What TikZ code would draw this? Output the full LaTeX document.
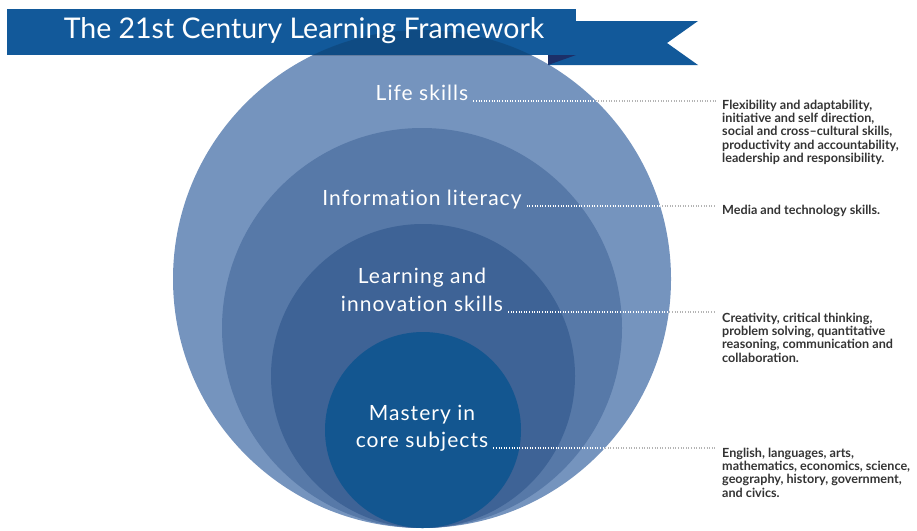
\documentclass[tikz,border=0pt]{standalone}
\usepackage{fontspec}
\setmainfont{Lato}
\usetikzlibrary{positioning,calc}
\definecolor{bannerblue}{HTML}{12599A}
\definecolor{folddark}{HTML}{1C2F68}
\definecolor{ringone}{HTML}{7594BE}
\definecolor{ringtwo}{HTML}{5779A8}
\definecolor{ringthree}{HTML}{3E6396}
\definecolor{coreblue}{HTML}{135690}
\definecolor{notegray}{HTML}{333333}
\definecolor{leadergray}{HTML}{B4B4B4}

\begin{document}
\begin{tikzpicture}[
  x=1pt,y=-1pt,
  ringlabel/.style={
    text=white,
    font=\fontsize{21}{24}\selectfont\addfontfeature{LetterSpace=5,Ligatures=NoCommon},
    anchor=base,
    inner sep=0pt
  },
  note/.style={
    anchor=north west,
    text=notegray,
    font=\bfseries\fontsize{12.6}{13.2}\selectfont,
    align=left,
    inner sep=0pt
  },
  leader/.style={
    leadergray,
    line width=1.1pt,
    dash pattern=on 1pt off 1.6pt
  },
  whiteleader/.style={
    leader,
    white
  }]
  \useasboundingbox (0,0) rectangle (917,530);
  % rings
  \fill[ringone]   (422,279) circle[radius=249pt];
  \fill[ringtwo]   (422,328) circle[radius=200pt];
  \fill[ringthree] (423,376) circle[radius=152pt];
  \fill[coreblue]  (423,430) circle[radius=98pt];
  % banner
  \fill[bannerblue] (548,21) -- (698,21) -- (667,43) -- (698,65) -- (548,65) -- cycle;
  \fill[folddark] (548,55) -- (576,55) -- (548,65) -- cycle;
  \fill[bannerblue] (7,9) rectangle (576,55);
  \begin{scope}
    \clip (7,9) rectangle (576,55);
    \fill[black,opacity=.15] (422,279) circle[radius=249pt];
  \end{scope}
  \node[text=white,font=\fontsize{28.5}{30}\selectfont,inner sep=0pt] (title) at (304,31)
    {The 21st Century Learning Framework};
  % ring labels
  \node[ringlabel] (life)   at (422,100) {Life skills};
  \node[ringlabel] (info)   at (422,205) {Information literacy};
  \node[ringlabel] (learnA) at (422,283) {Learning and};
  \node[ringlabel] (learnB) at (422,311) {innovation skills};
  \node[ringlabel] (coreA)  at (422,420) {Mastery in};
  \node[ringlabel] (coreB)  at (422,447) {core subjects};
  % notes
  \node[note] (lifenote) at (722,100)
    {Flexibility and adaptability,\\initiative and self direction,\\social and cross--cultural skills,\\productivity and accountability,\\leadership and responsibility.};
  \node[note] (infonote) at (722,205)
    {Media and technology skills.};
  \node[note] (learnnote) at (722,313)
    {Creativity, critical thinking,\\problem solving, quantitative\\reasoning, communication and\\collaboration.};
  \node[note] (corenote) at (722,448)
    {English, languages, arts,\\mathematics, economics, science,\\geography, history, government,\\and civics.};
  % leaders
  \foreach \from/\to in {life/lifenote,info/infonote,learnB/learnnote,coreB/corenote}
    \draw[leader] ([xshift=5pt,yshift=-1pt]\from.base east) -- ([xshift=-6pt,yshift=-1pt]\from.base east -| \to.west);
  \begin{scope}
    \clip (422,279) circle[radius=249pt];
    \foreach \from/\to in {life/lifenote,info/infonote,learnB/learnnote,coreB/corenote}
      \draw[whiteleader] ([xshift=5pt,yshift=-1pt]\from.base east) -- ([xshift=-6pt,yshift=-1pt]\from.base east -| \to.west);
  \end{scope}
\end{tikzpicture}
\end{document}
